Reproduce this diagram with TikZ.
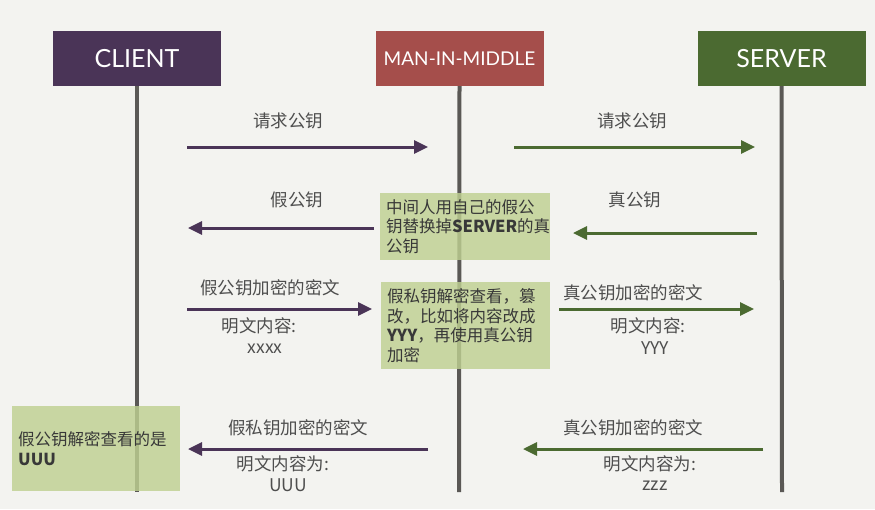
\documentclass[tikz,border=0pt]{standalone}
\usepackage{fontspec}
\setmainfont{Noto Sans CJK SC}
\newfontfamily\titlefont{Lato}
\usetikzlibrary{arrows.meta,positioning}

\definecolor{clientpurple}{HTML}{4A3457}
\definecolor{mimred}{HTML}{A54E4B}
\definecolor{servergreen}{HTML}{4B6A31}
\definecolor{notegreen}{HTML}{BFD092}
\definecolor{lifegray}{HTML}{5A5855}
\definecolor{labelgray}{HTML}{4E4E4E}
\definecolor{papercolor}{HTML}{F3F3F0}

\begin{document}
\begin{tikzpicture}[x=1pt,y=-1pt,
    actor/.style={minimum width=168pt,minimum height=55pt,inner sep=0pt,text=white,
        font=\titlefont\fontsize{25}{27}\selectfont},
    lifeline/.style={lifegray,line width=4pt},
    msgc/.style={clientpurple,line width=3pt,-{Triangle[length=14pt,width=13pt]}},
    msgs/.style={servergreen,line width=3pt,-{Triangle[length=14pt,width=13pt]}},
    lbl/.style={text=labelgray,inner sep=0pt,font=\fontsize{17.5}{20}\selectfont},
    note/.style={fill=notegreen,fill opacity=0.82,text opacity=1,text=black!78,
        anchor=north west,align=left,inner xsep=6pt,inner ysep=0pt,
        font=\fontsize{16.5}{19.5}\selectfont}
]
    \fill[papercolor] (0,0) rectangle (875,509);
    \useasboundingbox (0,0) rectangle (875,509);

    % actors
    \node[actor,fill=clientpurple] (client) at (137,58.5) {CLIENT};
    \node[actor,fill=mimred,font=\titlefont\fontsize{19}{21}\selectfont] (mim) at (459.5,58.5) {MAN-IN-MIDDLE};
    \node[actor,fill=servergreen] (server) at (781.5,58.5) {SERVER};

    % lifelines
    \coordinate (clientend) at (137,492);
    \coordinate (mimend) at (459,492);
    \coordinate (serverend) at (782,492);
    \draw[lifeline] (client.south) -- (clientend);
    \draw[lifeline] (mim.south) -- (mimend);
    \draw[lifeline] (server.south) -- (serverend);

    % step 1: request key
    \coordinate (a1s) at (187,147);  \coordinate (a1e) at (428,147);
    \coordinate (a2s) at (514,147);  \coordinate (a2e) at (755,147);
    \draw[msgc] (a1s) -- (a1e);
    \draw[msgs] (a2s) -- (a2e);
    \node[lbl] (req1) at (288,121) {请求公钥};
    \node[lbl] (req2) at (632,121) {请求公钥};

    % step 2: keys back
    \coordinate (a3s) at (374,228);  \coordinate (a3e) at (188,228);
    \coordinate (a4s) at (757,233);  \coordinate (a4e) at (573,233);
    \draw[msgc] (a3s) -- (a3e);
    \draw[msgs] (a4s) -- (a4e);
    \node[lbl] (fakekey) at (297,200) {假公钥};
    \node[lbl] (realkey) at (635,200) {真公钥};
    \node[note,minimum width=170pt,minimum height=67pt,text width=158pt] (swap) at (380,193)
        {中间人用自己的假公\\钥替换掉\textbf{SERVER}的真\\公钥};

    % step 3: client sends
    \coordinate (a5s) at (187,309);  \coordinate (a5e) at (372,309);
    \coordinate (a6s) at (559,309);  \coordinate (a6e) at (754,309);
    \draw[msgc] (a5s) -- (a5e);
    \draw[msgs] (a6s) -- (a6e);
    \node[lbl] (c1) at (270,288) {假公钥加密的密文};
    \node[lbl] (c1p) at (259,326) {明文内容:};
    \node[lbl] (c1v) at (265,349) {xxxx};
    \node[lbl] (c2) at (633,293) {真公钥加密的密文};
    \node[lbl] (c2p) at (648,326) {明文内容:};
    \node[lbl] (c2v) at (655,348) {YYY};
    \node[note,minimum width=169pt,minimum height=87pt,text width=157pt] (tamper) at (381,282)
        {假私钥解密查看，篡\\改，比如将内容改成\\\textbf{YYY}，再使用真公钥\\加密};

    % step 4: server answers
    \coordinate (a7s) at (428,449);  \coordinate (a7e) at (188,449);
    \coordinate (a8s) at (763,449);  \coordinate (a8e) at (523,449);
    \draw[msgc] (a7s) -- (a7e);
    \draw[msgs] (a8s) -- (a8e);
    \node[lbl] (r1) at (298,428) {假私钥加密的密文};
    \node[lbl] (r1p) at (283,464) {明文内容为:};
    \node[lbl] (r1v) at (288,485) {UUU};
    \node[lbl] (r2) at (633,428) {真公钥加密的密文};
    \node[lbl] (r2p) at (650,464) {明文内容为:};
    \node[lbl] (r2v) at (655,486) {zzz};
    \node[note,minimum width=168pt,minimum height=85pt,text width=156pt,inner xsep=3pt] (seen) at (12,406)
        {假公钥解密查看的是\\\textbf{UUU}};
\end{tikzpicture}
\end{document}
